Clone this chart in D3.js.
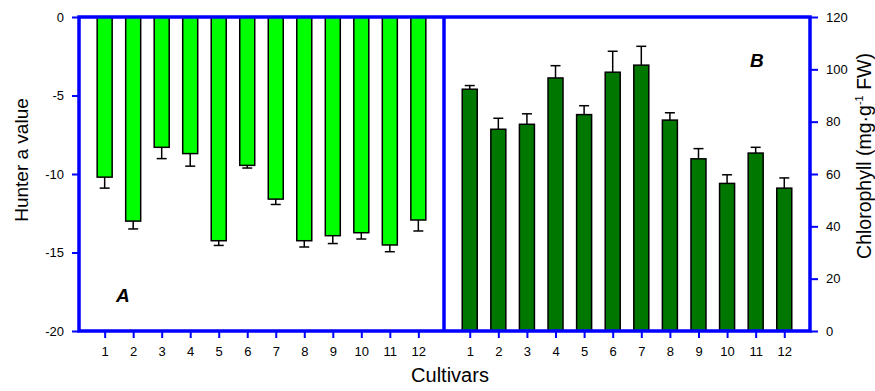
<!DOCTYPE html>
<html>
<head>
<meta charset="utf-8">
<script src="https://cdn.jsdelivr.net/npm/d3@7/dist/d3.min.js"></script>
<style>
  html, body { margin: 0; padding: 0; background: #fff; }
  svg { display: block; font-family: "Liberation Sans", Arial, sans-serif; }
</style>
</head>
<body>
<svg id="chart" width="875" height="391"></svg>
<script>
// Cultivars 1–12
const cultivars = [1, 2, 3, 4, 5, 6, 7, 8, 9, 10, 11, 12];

// Panel A: Hunter a value (mean and standard error)
const hunterA = [-10.2, -13.0, -8.3, -8.7, -14.25, -9.45, -11.6, -14.25, -13.93, -13.74, -14.52, -12.93];
const hunterAErr = [0.7, 0.5, 0.72, 0.8, 0.3, 0.17, 0.34, 0.4, 0.5, 0.4, 0.43, 0.7];

// Panel B: chlorophyll content, mg·g⁻¹ FW (mean and standard error)
const chlorophyll = [92.4, 77.1, 79.0, 96.7, 82.7, 98.9, 101.6, 80.6, 65.8, 56.4, 68.0, 54.6];
const chlorophyllErr = [1.4, 4.2, 4.0, 4.7, 3.4, 8.0, 7.2, 2.8, 3.9, 3.3, 2.2, 3.9];

const leftTicks = [0, -5, -10, -15, -20];
const rightTicks = [0, 20, 40, 60, 80, 100, 120];

const svg = d3.select("#chart");
const plotTop = 17, plotBottom = 331, plotLeft = 79, plotMid = 444, plotRight = 810;
const blue = "#0000ff";

const yA = d3.scaleLinear().domain([0, -20]).range([plotTop, plotBottom]);
const yB = d3.scaleLinear().domain([0, 120]).range([plotBottom, plotTop]);
const xA = d3.scaleLinear().domain([0.1, 12.9]).range([plotLeft, plotMid]);
const xB = d3.scaleLinear().domain([0.1, 12.9]).range([plotMid, plotRight]);
const barW = 15, capW = 10;
const plain = d => String(d);   // plain hyphen for negative labels

function styleAxis(g) {
  g.select(".domain").remove();
  g.selectAll(".tick line").attr("stroke", blue).attr("stroke-width", 2);
  g.selectAll(".tick text").attr("fill", "#000").style("font-size", "13px")
    .style("font-family", "'Liberation Sans', Arial, sans-serif");
}

// Axes
svg.append("g").attr("transform", `translate(${plotLeft},0)`)
  .call(d3.axisLeft(yA).tickValues(leftTicks).tickSize(7).tickPadding(8).tickFormat(plain))
  .call(styleAxis);
svg.append("g").attr("transform", `translate(${plotRight},0)`)
  .call(d3.axisRight(yB).tickValues(rightTicks).tickSize(8).tickPadding(8).tickFormat(plain))
  .call(styleAxis);
svg.append("g").attr("transform", `translate(0,${plotBottom})`)
  .call(d3.axisBottom(xA).tickValues(cultivars).tickSize(7).tickPadding(9).tickFormat(plain))
  .call(styleAxis);
svg.append("g").attr("transform", `translate(0,${plotBottom})`)
  .call(d3.axisBottom(xB).tickValues(cultivars).tickSize(7).tickPadding(9).tickFormat(plain))
  .call(styleAxis);

// Panel A bars (hang down from zero) with error bars below
const gA = svg.append("g");
cultivars.forEach((c, i) => {
  const v = hunterA[i], e = hunterAErr[i], cx = xA(c);
  gA.append("line").attr("x1", cx).attr("x2", cx).attr("y1", yA(v)).attr("y2", yA(v - e))
    .attr("stroke", "#000").attr("stroke-width", 1.5);
  gA.append("line").attr("x1", cx - capW / 2).attr("x2", cx + capW / 2).attr("y1", yA(v - e)).attr("y2", yA(v - e))
    .attr("stroke", "#000").attr("stroke-width", 1.5);
  gA.append("rect").attr("x", cx - barW / 2).attr("width", barW)
    .attr("y", yA(0)).attr("height", yA(v) - yA(0))
    .attr("fill", "#00ff00").attr("stroke", "#000").attr("stroke-width", 1.5);
});

// Panel B bars (rise from zero) with error bars above
const gB = svg.append("g");
cultivars.forEach((c, i) => {
  const v = chlorophyll[i], e = chlorophyllErr[i], cx = xB(c);
  gB.append("line").attr("x1", cx).attr("x2", cx).attr("y1", yB(v)).attr("y2", yB(v + e))
    .attr("stroke", "#000").attr("stroke-width", 1.5);
  gB.append("line").attr("x1", cx - capW / 2).attr("x2", cx + capW / 2).attr("y1", yB(v + e)).attr("y2", yB(v + e))
    .attr("stroke", "#000").attr("stroke-width", 1.5);
  gB.append("rect").attr("x", cx - barW / 2).attr("width", barW)
    .attr("y", yB(v)).attr("height", yB(0) - yB(v))
    .attr("fill", "#007800").attr("stroke", "#000").attr("stroke-width", 1.5);
});

// Frame and panel divider
svg.append("rect").attr("x", plotLeft).attr("y", plotTop).attr("width", plotRight - plotLeft).attr("height", plotBottom - plotTop)
  .attr("fill", "none").attr("stroke", blue).attr("stroke-width", 3.5);
svg.append("line").attr("x1", plotMid).attr("x2", plotMid).attr("y1", plotTop).attr("y2", plotBottom)
  .attr("stroke", blue).attr("stroke-width", 3.5);

// Panel letters
svg.append("text").attr("x", 116).attr("y", 302).text("A")
  .style("font-size", "19px").style("font-weight", "bold").style("font-style", "italic");
svg.append("text").attr("x", 750).attr("y", 67).text("B")
  .style("font-size", "19px").style("font-weight", "bold").style("font-style", "italic");

// Axis titles
svg.append("text").attr("transform", "translate(28,160) rotate(-90)").attr("text-anchor", "middle")
  .style("font-size", "19px").text("Hunter a value");
svg.append("text").attr("x", 450).attr("y", 382).attr("text-anchor", "middle")
  .style("font-size", "20px").text("Cultivars");
const chl = svg.append("text").attr("transform", "translate(871,156) rotate(-90)").attr("text-anchor", "middle")
  .style("font-size", "19.5px");
chl.append("tspan").text("Chlorophyll (mg·g");
chl.append("tspan").attr("dy", -8).style("font-size", "11px").text("-1");
chl.append("tspan").attr("dy", 8).text(" FW)");
</script>
</body>
</html>
